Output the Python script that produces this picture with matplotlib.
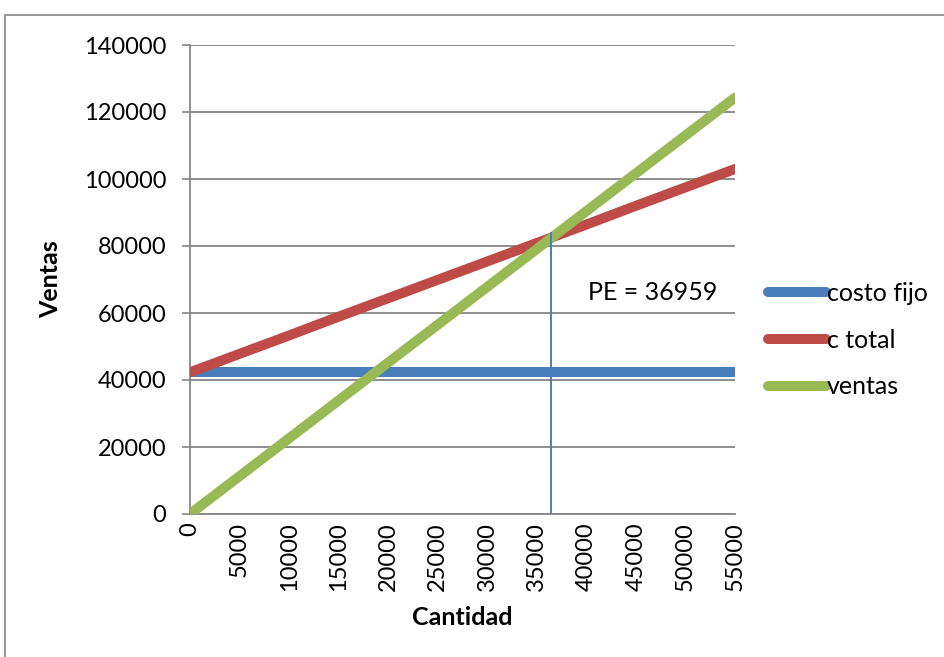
import matplotlib
matplotlib.use("Agg")
import matplotlib.pyplot as plt
from matplotlib.patches import Rectangle

plt.rcParams['font.family'] = ['Lato', 'DejaVu Sans']

cantidad = ['0', '5000', '10000', '15000', '20000', '25000', '30000',
            '35000', '40000', '45000', '50000', '55000']
costo_fijo = [42300] * 12
c_total = [42300, 47800, 53300, 58900, 64400, 69900, 75400, 80900,
           86400, 92000, 97500, 103000]
ventas = [0, 11300, 22600, 33900, 45200, 56500, 67800, 79100,
          90400, 101700, 113000, 124300]
pe_label = 'PE = 36959'
pe_x = 36400      # where the vertical marker is drawn
pe_top = 84000
y_ticks = [0, 20000, 40000, 60000, 80000, 100000, 120000, 140000]

W, H = 944, 657
fig = plt.figure(figsize=(W / 100, H / 100), dpi=100)
ax = fig.add_axes([190 / W, 1 - 514 / H, (735 - 190) / W, (514 - 45) / H])

grid_c = '#868686'
xs = list(range(len(cantidad)))
lw = 7.2
ax.plot(xs, costo_fijo, color='#4A7EBB', lw=lw, solid_capstyle='round',
        label='costo fijo', zorder=3)
ax.plot(xs, c_total, color='#BE4B48', lw=lw, solid_capstyle='round',
        label='c total', zorder=4)
ax.plot(xs, ventas, color='#98B954', lw=lw, solid_capstyle='round',
        label='ventas', zorder=5)

step = float(cantidad[1])
ax.plot([pe_x / step, pe_x / step], [0, pe_top], color='#4A7EBB', lw=1.4,
        zorder=6)

ax.set_xlim(0, len(cantidad) - 1)
ax.set_ylim(0, 140000)
ax.set_yticks(y_ticks)
ax.set_yticklabels([str(v) for v in y_ticks], fontsize=17)
ax.set_xticks(xs)
ax.set_xticklabels(cantidad, rotation=90, fontsize=17)
ax.tick_params(axis='x', length=0, pad=6)
ax.tick_params(axis='y', length=6, width=1.2, color=grid_c, pad=11)

for v in y_ticks:
    ax.axhline(v, color=grid_c, lw=1.3, zorder=1)

for s in ['top', 'right']:
    ax.spines[s].set_visible(False)
for s in ['left', 'bottom']:
    ax.spines[s].set_color(grid_c)
    ax.spines[s].set_linewidth(1.3)

ax.set_xlabel('Cantidad', fontsize=18, fontweight='bold', labelpad=11)
ax.set_ylabel('Ventas', fontsize=18, fontweight='bold', labelpad=16)

ax.text(588 / W, 1 - 293 / H, pe_label, transform=fig.transFigure,
        fontsize=18, va='center', ha='left')

leg = ax.legend(loc='center left', bbox_to_anchor=(772 / W - 0.004, 1 - 340 / H),
                bbox_transform=fig.transFigure, frameon=False, fontsize=18,
                handlelength=2.3, handletextpad=0.05, labelspacing=0.95,
                borderaxespad=0, borderpad=0)
for h in leg.get_lines():
    h.set_solid_capstyle('round')

fig.add_artist(Rectangle((5 / W, -0.05), 1.2, 1 - 15 / H + 0.05,
                         transform=fig.transFigure, fill=False,
                         edgecolor=grid_c, lw=1.2, clip_on=False))

fig.savefig('out.png', dpi=100)
